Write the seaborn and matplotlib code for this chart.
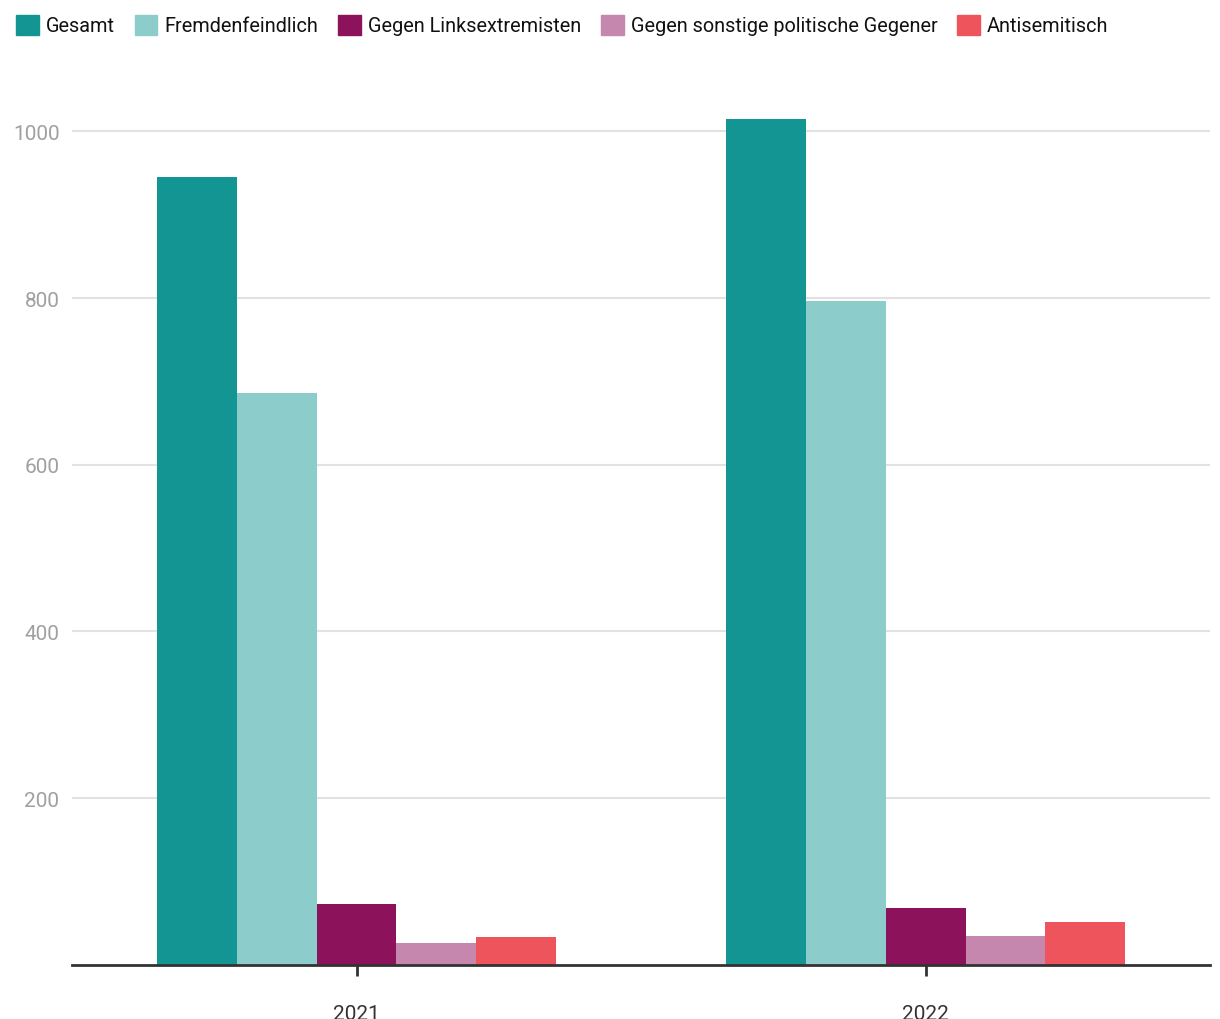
import pandas as pd
import matplotlib.pyplot as plt
import seaborn as sns

# ── Daten ─────────────────────────────────────────────────────────────────────
jahre = ["2021", "2022"]
kategorien = [
    "Gesamt",
    "Fremdenfeindlich",
    "Gegen Linksextremisten",
    "Gegen sonstige politische Gegener",
    "Antisemitisch",
]
werte_2021 = [945, 686, 73, 26, 34]
werte_2022 = [1015, 796, 68, 35, 52]
farben = ["#139594", "#8ccdcc", "#8c125c", "#c587ae", "#ee545b"]
y_ticks = [200, 400, 600, 800, 1000]

df = pd.DataFrame({
    "jahr": jahre[0:1] * len(kategorien) + jahre[1:2] * len(kategorien),
    "kategorie": kategorien * 2,
    "wert": werte_2021 + werte_2022,
})

# ── Stil ──────────────────────────────────────────────────────────────────────
sns.set_theme(style="white")
plt.rcParams["font.family"] = ["Roboto", "DejaVu Sans"]

fig = plt.figure(figsize=(12.2, 10.2), dpi=100)
ax = fig.add_axes([0.059, 0.053, 0.933, 0.868])

sns.barplot(
    data=df, x="jahr", y="wert", hue="kategorie",
    hue_order=kategorien, palette=farben,
    width=0.7, gap=0, saturation=1, ax=ax, legend=False,
)
for p in ax.patches:
    p.set_edgecolor("none")

ax.set_xlim(-0.5, 1.5)
ax.set_ylim(0, 1062)
ax.set_yticks(y_ticks)
ax.grid(axis="y", color="#e2e2e2", linewidth=1.5)
ax.set_axisbelow(True)
for s in ["top", "right", "left"]:
    ax.spines[s].set_visible(False)
ax.spines["bottom"].set_color("#333333")
ax.spines["bottom"].set_linewidth(2)
ax.tick_params(axis="y", length=0, labelsize=15, labelcolor="#a0a0a0", pad=9)
ax.tick_params(axis="x", length=8, width=2, color="#333333",
               labelsize=15, labelcolor="#333333", pad=20, bottom=True)
ax.set_xlabel("")
ax.set_ylabel("")

# Legende oben
handles = [plt.Rectangle((0, 0), 1, 1, color=c) for c in farben]
fig.legend(
    handles, kategorien, loc="upper left", bbox_to_anchor=(0.0, 1.0),
    ncol=5, frameon=False, fontsize=14.3, handlelength=1.15, handleheight=1.15,
    handletextpad=0.35, columnspacing=1.0, borderaxespad=0.4,
    labelcolor="#111111",
)

plt.savefig("out.png")
plt.close()
